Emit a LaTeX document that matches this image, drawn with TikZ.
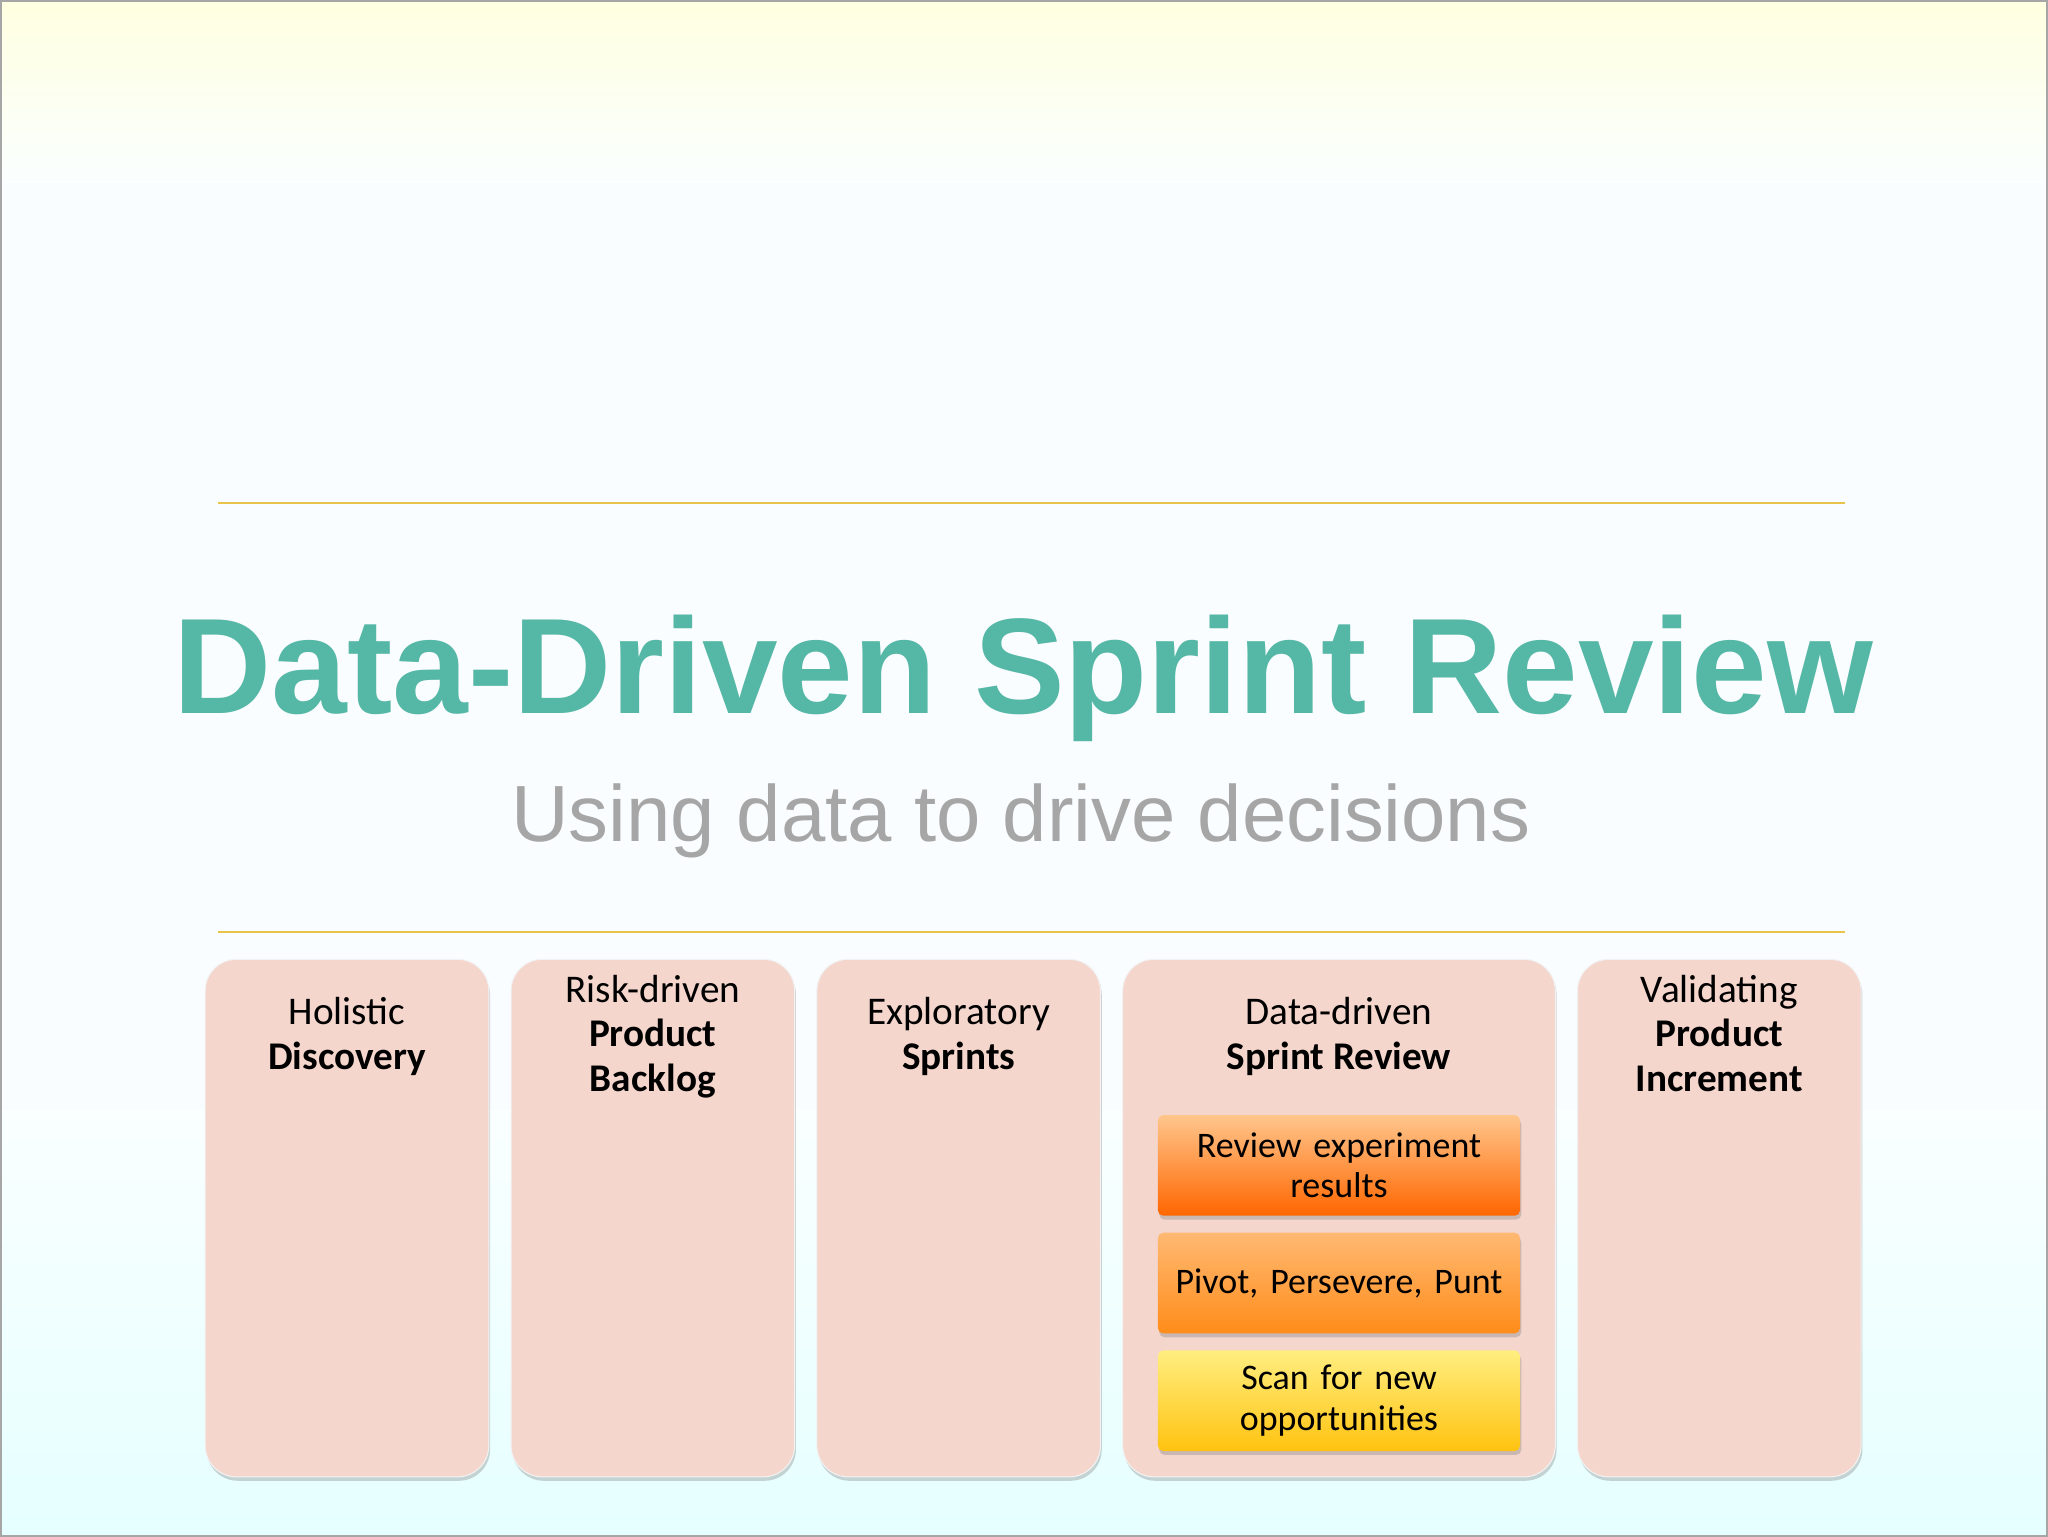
\documentclass[tikz,border=0pt]{standalone}
\usepackage{fontspec}
\setmainfont{Carlito}
\newfontfamily\titlefont{Liberation Sans}
\usetikzlibrary{shadows}
\definecolor{teal1}{HTML}{55B7A6}
\definecolor{gold1}{HTML}{E8C44A}
\definecolor{colfill}{HTML}{F4D6CD}
\definecolor{ytop}{HTML}{FFEE80}
\definecolor{ybot}{HTML}{FFC310}
\tikzset{
 col/.style={draw=white!90!gray,line width=0.8pt,fill=colfill,rounded corners=24pt,drop shadow={shadow xshift=1pt,shadow yshift=-3pt,opacity=0.35}},
 coltext/.style={anchor=north,align=center,font=\fontsize{30}{34}\selectfont,inner sep=0pt},
 inner/.style={rounded corners=4pt,drop shadow={shadow xshift=1pt,shadow yshift=-3pt,opacity=0.35},minimum width=277pt,minimum height=77pt,anchor=north,align=center,font=\fontsize{27.5}{31}\selectfont,inner sep=0pt,text width=270pt}
}
\begin{document}
\begin{tikzpicture}[x=1pt,y=-1pt]
\useasboundingbox (0,0) rectangle (1567,1176);
\shade[top color=yellow!12,bottom color=white!98!cyan] (0,0) rectangle (1567,140);
\fill[white!98!cyan] (0,140) rectangle (1567,850);
\shade[top color=white!98!cyan,bottom color=cyan!10] (0,850) rectangle (1567,1176);
\draw[gray!70,line width=1.5pt] (0.75,0.75) rectangle (1566.25,1175.25);
\coordinate (l1a) at (167,385); \coordinate (l1b) at (1412,385);
\coordinate (l2a) at (167,713); \coordinate (l2b) at (1412,713);
\draw[gold1,line width=1.2pt] (l1a) -- (l1b);
\draw[gold1,line width=1.2pt] (l2a) -- (l2b);
\node[font=\titlefont\bfseries\fontsize{104}{104}\selectfont,text=teal1,anchor=base] (title) at (783,546) {Data-Driven Sprint Review};
\node[font=\titlefont\fontsize{61}{61}\selectfont,text=black!35,anchor=base] (sub) at (781,644) {Using data to drive decisions};
\path[col] (157,734) rectangle (374,1130);
\path[col] (391,734) rectangle (608,1130);
\path[col] (625,734) rectangle (842,1130);
\path[col] (859,734) rectangle (1190,1130);
\path[col] (1207,734) rectangle (1424,1130);
\node[coltext] (c1) at (265.5,763) {Holistic\\\textbf{Discovery}};
\node[coltext] (c2) at (499.5,746) {Risk-driven\\\textbf{Product}\\\textbf{Backlog}};
\node[coltext] (c3) at (733.5,763) {Exploratory\\\textbf{Sprints}};
\node[coltext] (c4) at (1024.5,763) {Data-driven\\\textbf{Sprint Review}};
\node[coltext] (c5) at (1315.5,746) {Validating\\\textbf{Product}\\\textbf{Increment}};
\node[inner,top color=orange!45!white,bottom color=orange!80!red] (i1) at (1024.5,853) {Review experiment\\results};
\node[inner,top color=orange!55!white,bottom color=orange!90] (i2) at (1024.5,943) {Pivot, Persevere, Punt};
\node[inner,top color=ytop,bottom color=ybot] (i3) at (1024.5,1033) {Scan for new\\opportunities};
\end{tikzpicture}
\end{document}
